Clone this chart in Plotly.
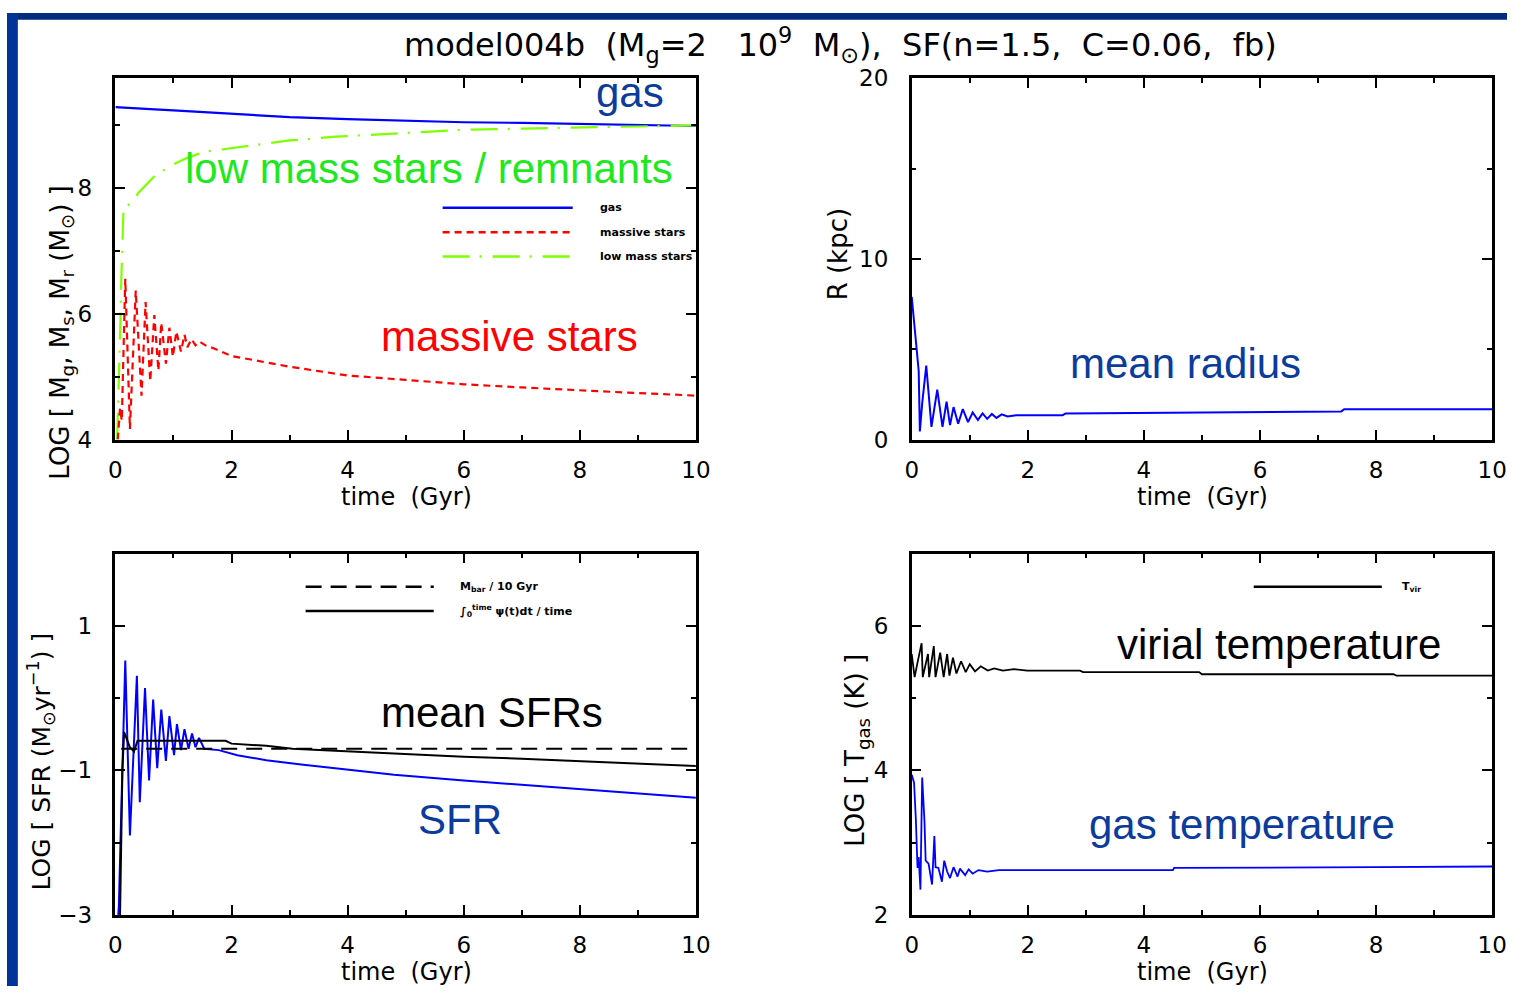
import plotly.graph_objects as go

W, H = 1522, 999

# ---------------- data ----------------
# Panel 1: masses, log10(M / Msun) vs time (Gyr)
t_gas = [0, 0.3, 0.6, 1.0, 1.5, 2.0, 2.5, 3.0, 4.0, 5.0, 6.0, 7.0, 8.0, 9.0, 10.0]
logM_gas = [9.29, 9.28, 9.26, 9.24, 9.21, 9.19, 9.16, 9.13, 9.10, 9.07, 9.05, 9.04, 9.02, 9.00, 8.99]

t_low = [0.03, 0.05, 0.07, 0.09, 0.10, 0.12, 0.14, 0.20, 0.30, 0.39, 0.50, 0.68, 0.96, 1.2,
         1.53, 2.0, 2.3, 3.0, 3.8, 4.9, 6.0, 7.0, 8.0, 9.0, 10.0]
logM_low = [4.0, 4.6, 5.3, 6.0, 6.5, 7.2, 7.69, 7.72, 7.78, 7.92, 8.03, 8.20, 8.36, 8.47,
            8.58, 8.64, 8.67, 8.76, 8.82, 8.88, 8.93, 8.95, 8.97, 8.99, 9.00]

t_massive = [0.04, 0.08, 0.11, 0.17, 0.25, 0.35, 0.45, 0.52, 0.60, 0.67, 0.74, 0.79, 0.87, 0.93,
             0.99, 1.05, 1.13, 1.19, 1.24, 1.31, 1.38, 1.45, 1.55, 1.70, 2.0, 2.5, 3.0, 3.5,
             4.0, 5.0, 6.0, 7.0, 8.0, 9.0, 10.0]
logM_massive = [4.0, 4.5, 4.3, 6.56, 4.17, 6.37, 4.70, 6.19, 4.93, 5.98, 5.10, 5.86, 5.21, 5.78,
                5.32, 5.72, 5.40, 5.67, 5.47, 5.60, 5.50, 5.56, 5.50, 5.45, 5.33, 5.24, 5.16, 5.09,
                5.02, 4.95, 4.88, 4.83, 4.78, 4.74, 4.70]

# Panel 2: mean radius (kpc)
t_radius = [0, 0.04, 0.08, 0.12, 0.14, 0.18, 0.25, 0.34, 0.44, 0.53, 0.60, 0.66, 0.72, 0.80,
            0.88, 0.97, 1.05, 1.14, 1.22, 1.30, 1.38, 1.46, 1.55, 1.65, 1.80, 2.0, 2.6, 2.65,
            4.0, 6.0, 7.4, 7.45, 10.0]
radius_kpc = [7.9, 6.5, 5.4, 3.8, 0.45, 2.0, 4.1, 0.7, 2.77, 0.7, 2.1, 0.8, 1.8, 0.88,
              1.69, 0.97, 1.5, 1.08, 1.45, 1.15, 1.42, 1.2, 1.4, 1.28, 1.35, 1.35, 1.35, 1.45,
              1.47, 1.52, 1.56, 1.68, 1.68]

# Panel 3: star formation rates, log10(Msun / yr)
t_sfr = [0.05, 0.06, 0.09, 0.17, 0.25, 0.37, 0.42, 0.51, 0.58, 0.65, 0.72, 0.79, 0.87, 0.93,
         1.01, 1.06, 1.13, 1.19, 1.26, 1.32, 1.38, 1.44, 1.53, 1.78, 2.1, 2.6, 3.2, 4.0,
         4.8, 6.0, 7.0, 8.0, 9.0, 10.0]
log_sfr = [-3.0, -2.87, -1.90, 0.52, -1.90, 0.31, -1.44, 0.14, -1.14, -0.02, -0.97, -0.16, -0.87, -0.25,
           -0.79, -0.36, -0.72, -0.43, -0.70, -0.49, -0.68, -0.55, -0.70, -0.72, -0.79, -0.86, -0.92, -0.99,
           -1.06, -1.14, -1.20, -1.26, -1.32, -1.38]

t_mean_sfr = [0.08, 0.10, 0.12, 0.15, 0.20, 0.25, 0.32, 0.38, 0.50, 0.70, 1.0, 1.5, 1.9, 2.0,
              2.6, 3.05, 3.8, 4.4, 4.8, 6.0, 7.0, 8.0, 9.0, 10.0]
log_mean_sfr = [-3.0, -2.0, -1.0, -0.47, -0.58, -0.68, -0.74, -0.59, -0.59, -0.59, -0.59, -0.59, -0.59, -0.63,
                -0.66, -0.70, -0.73, -0.75, -0.77, -0.81, -0.84, -0.87, -0.91, -0.94]

t_bar = [0.1, 10.0]
log_bar = [-0.70, -0.70]

# Panel 4: temperatures, log10(T / K)
t_vir = [0, 0.05, 0.10, 0.17, 0.19, 0.28, 0.30, 0.38, 0.41, 0.49, 0.55, 0.61, 0.65, 0.71,
         0.77, 0.85, 0.93, 1.0, 1.09, 1.19, 1.31, 1.42, 1.57, 1.76, 1.99, 2.9, 2.95, 4.95,
         5.0, 8.3, 8.35, 10.0]
log_tvir = [5.61, 5.29, 5.49, 5.76, 5.29, 5.61, 5.29, 5.72, 5.29, 5.63, 5.29, 5.61, 5.31, 5.56,
            5.34, 5.51, 5.36, 5.47, 5.37, 5.44, 5.38, 5.41, 5.38, 5.40, 5.38, 5.38, 5.36, 5.36,
            5.33, 5.33, 5.31, 5.31]

t_tgas = [0, 0.04, 0.07, 0.10, 0.12, 0.15, 0.18, 0.22, 0.24, 0.29, 0.35, 0.39, 0.41, 0.46,
          0.52, 0.56, 0.61, 0.66, 0.72, 0.79, 0.83, 0.92, 0.98, 1.05, 1.15, 1.30, 1.50, 2.0,
          4.5, 4.52, 6.0, 8.0, 10.0]
log_tgas = [3.94, 3.83, 3.34, 2.65, 2.80, 2.35, 3.90, 3.29, 2.75, 2.71, 2.42, 3.09, 2.66, 2.65,
            2.46, 2.75, 2.60, 2.51, 2.66, 2.53, 2.64, 2.55, 2.63, 2.57, 2.62, 2.60, 2.62, 2.62,
            2.62, 2.65, 2.65, 2.66, 2.67]

time_ticks = [0, 2, 4, 6, 8, 10]

# ---------------- styling helpers ----------------
FRAME_TOP = "#002b7f"
FRAME_LEFT = "#003399"
TXT_BLUE = "#0b3c9c"
TICK_FONT = dict(family="DejaVu Sans", size=23, color="black")
BIG_FONT = "Liberation Sans, Arial, sans-serif"


def px(x):
    return x / W


def py(y):
    return 1 - y / H


def xaxis_style(domain, anchor):
    return dict(domain=domain, anchor=anchor, range=[0, 10], tickmode="array",
                tickvals=time_ticks, ticktext=[str(v) for v in time_ticks],
                showline=True, linecolor="black", linewidth=2.5, mirror="ticks",
                ticks="inside", ticklen=10, tickwidth=2, tickcolor="black",
                ticklabelstandoff=8, showgrid=False, zeroline=False, tickfont=TICK_FONT,
                minor=dict(tickvals=[1, 3, 5, 7, 9], ticks="inside", ticklen=5,
                           tickwidth=2, tickcolor="black", showgrid=False))


def yaxis_style(domain, anchor, rng, major, minor):
    return dict(domain=domain, anchor=anchor, range=rng, tickmode="array",
                tickvals=major, ticktext=[str(v).replace("-", "\u2212") for v in major],
                showline=True, linecolor="black", linewidth=2.5, mirror="ticks",
                ticks="inside", ticklen=10, tickwidth=2, tickcolor="black",
                ticklabelstandoff=16, showgrid=False, zeroline=False, tickfont=TICK_FONT,
                minor=dict(tickvals=minor, ticks="inside", ticklen=5,
                           tickwidth=2, tickcolor="black", showgrid=False))


XL = [px(110), px(699)]
XR = [px(918), px(1507)]
YT = [py(438), py(67)]
YB = [py(926), py(555)]

fig = go.Figure()

# panel 1
fig.add_trace(go.Scatter(x=t_gas, y=logM_gas, mode="lines", xaxis="x", yaxis="y",
                         line=dict(color="#0000ff", width=2.2)))
fig.add_trace(go.Scatter(x=t_low, y=logM_low, mode="lines", xaxis="x", yaxis="y",
                         line=dict(color="#7fff00", width=2.2, dash="27px,10px,2px,11px")))
fig.add_trace(go.Scatter(x=t_massive, y=logM_massive, mode="lines", xaxis="x", yaxis="y",
                         line=dict(color="#ff0000", width=2.2, dash="7px,5px")))
# panel 2
fig.add_trace(go.Scatter(x=t_radius, y=radius_kpc, mode="lines", xaxis="x2", yaxis="y2",
                         line=dict(color="#0000ff", width=2)))
# panel 3
fig.add_trace(go.Scatter(x=t_sfr, y=log_sfr, mode="lines", xaxis="x3", yaxis="y3",
                         line=dict(color="#0000ff", width=2)))
fig.add_trace(go.Scatter(x=t_bar, y=log_bar, mode="lines", xaxis="x3", yaxis="y3",
                         line=dict(color="black", width=2, dash="16px,9px")))
fig.add_trace(go.Scatter(x=t_mean_sfr, y=log_mean_sfr, mode="lines", xaxis="x3", yaxis="y3",
                         line=dict(color="black", width=2)))
# panel 4
fig.add_trace(go.Scatter(x=t_vir, y=log_tvir, mode="lines", xaxis="x4", yaxis="y4",
                         line=dict(color="black", width=1.8)))
fig.add_trace(go.Scatter(x=t_tgas, y=log_tgas, mode="lines", xaxis="x4", yaxis="y4",
                         line=dict(color="#0000ff", width=1.8)))

shapes = [
    dict(type="rect", xref="paper", yref="paper", x0=0, x1=1, y0=py(7), y1=1,
         fillcolor=FRAME_TOP, line=dict(width=0), layer="below"),
    dict(type="rect", xref="paper", yref="paper", x0=0, x1=px(11), y0=0, y1=1,
         fillcolor=FRAME_LEFT, line=dict(width=0), layer="below"),
]


def key_line(x0, x1, y, color, dash):
    return dict(type="line", xref="paper", yref="paper", x0=px(x0), x1=px(x1),
                y0=py(y), y1=py(y), line=dict(color=color, width=2.5, dash=dash))


shapes += [
    key_line(442, 574, 200, "#0000ff", "solid"),
    key_line(442, 574, 225, "#ff0000", "7px,5px"),
    key_line(442, 574, 250, "#7fff00", "27px,10px,2px,11px"),
    key_line(303, 433, 589, "black", "16px,9px"),
    key_line(303, 433, 614, "black", "solid"),
    key_line(1265, 1395, 589, "black", "solid"),
]

annotations = []


def text(x, y, s, size, color="black", family="DejaVu Sans", angle=0, xanchor="center"):
    annotations.append(dict(x=px(x), y=py(y), xref="paper", yref="paper", text=s,
                            showarrow=False, textangle=angle, xanchor=xanchor,
                            yanchor="middle", font=dict(family=family, size=size, color=color)))


# title
text(846, 33, "model004b  (M<sub>g</sub>=2   10<sup>9</sup>  M<sub>\u2299</sub>),  SF(n=1.5,  C=0.06,  fb)", 32)

# axis titles
for cx in (405, 1213):
    text(cx, 497, "time  (Gyr)", 24)
    text(cx, 985, "time  (Gyr)", 24)
text(55, 328, "LOG [ M<sub>g</sub>, M<sub>s</sub>, M<sub>r</sub> (M<sub>\u2299</sub>) ]", 26, angle=-90)
text(843, 248, "R (kpc)", 26, angle=-90)
text(35, 768, "LOG [ SFR (M<sub>\u2299</sub>yr<sup>\u22121</sup>) ]", 25, angle=-90)
text(862, 757, "LOG [ T<sub>gas</sub> (K) ]", 26, angle=-90)

# key labels
text(600, 200, "<b>gas</b>", 11, xanchor="left")
text(600, 225, "<b>massive stars</b>", 11, xanchor="left")
text(600, 250, "<b>low mass stars</b>", 11, xanchor="left")
text(458, 589, "<b>M<sub>bar</sub> / 10 Gyr</b>", 11, xanchor="left")
text(458, 614, "<b>\u222b<sub>0</sub><sup>time</sup> \u03c8(t)dt / time</b>", 11, xanchor="left")
text(1413, 589, "<b>T<sub>vir</sub></b>", 11, xanchor="left")

# curve labels
text(632, 82, "gas", 42, TXT_BLUE, BIG_FONT)
text(428, 160, "low mass stars / remnants", 42, "#1ee81e", BIG_FONT)
text(510, 332, "massive stars", 42, "#ff0000", BIG_FONT)
text(1196, 360, "mean radius", 42, TXT_BLUE, BIG_FONT)
text(492, 718, "mean SFRs", 42, "black", BIG_FONT)
text(460, 828, "SFR", 42, TXT_BLUE, BIG_FONT)
text(1291, 648, "virial temperature", 42, "black", BIG_FONT)
text(1253, 833, "gas temperature", 42, TXT_BLUE, BIG_FONT)

fig.update_layout(
    width=W, height=H, margin=dict(l=0, r=0, t=0, b=0),
    paper_bgcolor="white", plot_bgcolor="white", showlegend=False,
    xaxis=xaxis_style(XL, "y"), yaxis=yaxis_style(YT, "x", [4, 9.75], [4, 6, 8], [5, 7, 9]),
    xaxis2=xaxis_style(XR, "y2"), yaxis2=yaxis_style(YT, "x2", [0, 20], [0, 10, 20], [5, 15]),
    xaxis3=xaxis_style(XL, "y3"), yaxis3=yaxis_style(YB, "x3", [-3, 2], [-3, -1, 1], [-2, 0]),
    xaxis4=xaxis_style(XR, "y4"), yaxis4=yaxis_style(YB, "x4", [2, 7], [2, 4, 6], [3, 5]),
    shapes=shapes, annotations=annotations,
)

fig.write_html(
    "out.html",
    config={"displayModeBar": False},
    post_script="document.body.style.margin='0';",
)
